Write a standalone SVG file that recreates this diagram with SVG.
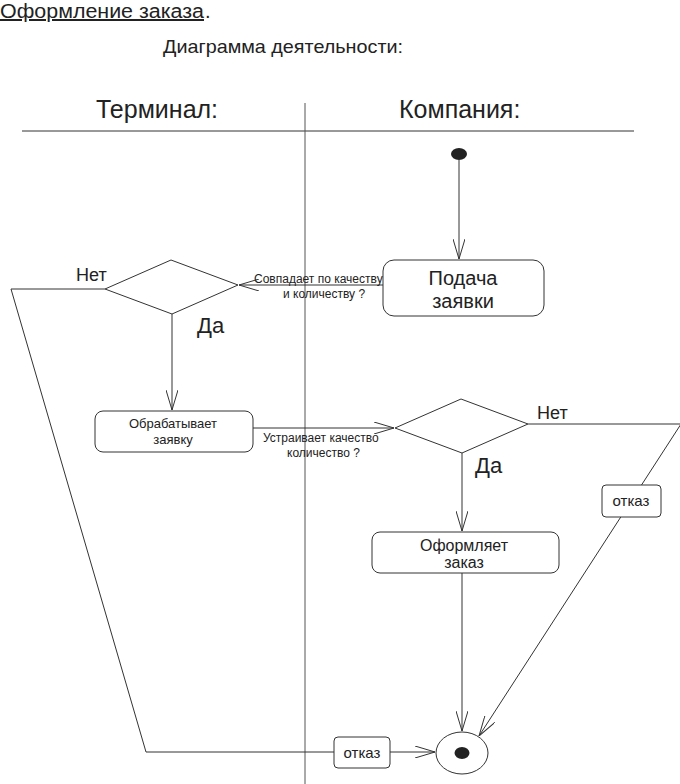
<svg xmlns="http://www.w3.org/2000/svg" width="680" height="784" viewBox="0 0 680 784">
<defs>
<style>
text{font-family:"Liberation Sans",Arial,sans-serif;fill:#222}
.ln{fill:none;stroke:#333;stroke-width:1}
.box{fill:#fff;stroke:#333;stroke-width:1}
.c{text-anchor:middle}
</style>
<marker id="ah" viewBox="0 0 20 12" refX="20" refY="6" markerWidth="20" markerHeight="12" markerUnits="userSpaceOnUse" orient="auto">
<path d="M0,0 L20,6 L0,12" fill="none" stroke="#333" stroke-width="1"/>
</marker>
</defs>
<rect width="680" height="784" fill="#fff"/>
<g id="titles">
<text x="0" y="18" font-size="20" textLength="204" lengthAdjust="spacingAndGlyphs" text-decoration="underline">Оформление заказа</text><text x="205" y="18" font-size="20">.</text>
<text x="163" y="53" font-size="19" textLength="240" lengthAdjust="spacingAndGlyphs">Диаграмма деятельности:</text>
<text x="96" y="118" font-size="25">Терминал:</text>
<text x="399" y="118" font-size="25">Компания:</text>
</g>
<g id="lanes">
<line class="ln" x1="22" y1="131" x2="634" y2="131"/>
<line x1="305" y1="103" x2="305" y2="784" stroke="#555" stroke-width="1"/>
</g>
<g id="connectors">
<line class="ln" x1="459" y1="160" x2="459" y2="259" marker-end="url(#ah)"/>
<line class="ln" x1="383" y1="285" x2="239" y2="285" marker-end="url(#ah)"/>
<polyline class="ln" points="105,289 11,289 146,752 334,752"/>
<line class="ln" x1="390" y1="752" x2="435" y2="752" marker-end="url(#ah)"/>
<line class="ln" x1="172" y1="314" x2="172" y2="410" marker-end="url(#ah)"/>
<line class="ln" x1="253" y1="428" x2="394" y2="428" marker-end="url(#ah)"/>
<polyline class="ln" points="528,424 681,424 479,736" marker-end="url(#ah)"/>
<line class="ln" x1="462" y1="453" x2="462" y2="531" marker-end="url(#ah)"/>
<line class="ln" x1="462" y1="573" x2="462" y2="731" marker-end="url(#ah)"/>
</g>
<g id="start"><ellipse cx="459" cy="154" rx="8" ry="6" fill="#222"/></g>
<g id="podacha">
<rect class="box" x="383" y="260" width="161" height="56" rx="11"/>
<text class="c" x="463" y="285" font-size="20">Подача</text>
<text class="c" x="463" y="308" font-size="20">заявки</text>
</g>
<g id="decision1">
<polygon class="box" points="105,289 171,260 238,285 172,314"/>
<text x="76" y="281" font-size="18">Нет</text>
<text x="197" y="333" font-size="22">Да</text>
<text x="254" y="283" font-size="12">Совпадает по качеству</text>
<text x="283" y="298" font-size="12">и количеству ?</text>
</g>
<g id="obrabatyvaet">
<rect class="box" x="95" y="411" width="158" height="41" rx="8"/>
<text class="c" x="173" y="428" font-size="13">Обрабатывает</text>
<text class="c" x="173" y="444" font-size="13">заявку</text>
</g>
<text x="263" y="442" font-size="12">Устраивает качество</text>
<text x="287" y="457" font-size="12">количество ?</text>
<g id="decision2">
<polygon class="box" points="395,428 461,399 528,424 462,453"/>
<text x="537" y="419" font-size="18">Нет</text>
<text x="475" y="473" font-size="22">Да</text>
</g>
<g id="otkaz1">
<rect class="box" x="602" y="485" width="59" height="32" rx="4"/>
<text class="c" x="631" y="506" font-size="15">отказ</text>
</g>
<g id="oformlyaet">
<rect class="box" x="372" y="532" width="187" height="41" rx="8"/>
<text class="c" x="464" y="551" font-size="16">Оформляет</text>
<text class="c" x="464" y="568" font-size="16">заказ</text>
</g>
<g id="otkaz2">
<rect class="box" x="334" y="737" width="56" height="31" rx="4"/>
<text class="c" x="362" y="758" font-size="15">отказ</text>
</g>
<g id="end">
<ellipse class="box" cx="462" cy="753" rx="26" ry="21"/>
<ellipse cx="462" cy="753" rx="7.5" ry="6" fill="#222"/>
</g>
</svg>
